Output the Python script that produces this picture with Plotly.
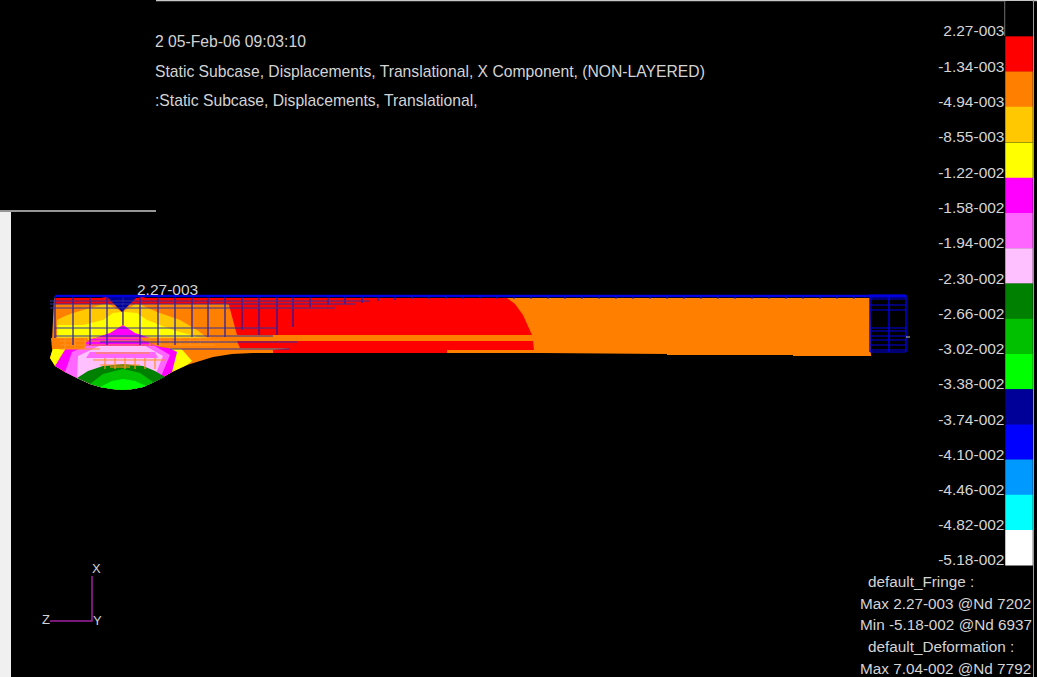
import plotly.graph_objects as go

W, H = 1037, 677
# ---- fringe legend data
fringe_labels = ["2.27-003","-1.34-003","-4.94-003","-8.55-003","-1.22-002","-1.58-002","-1.94-002","-2.30-002",
                 "-2.66-002","-3.02-002","-3.38-002","-3.74-002","-4.10-002","-4.46-002","-4.82-002","-5.18-002"]
fringe_values = [2.27e-3,-1.34e-3,-4.94e-3,-8.55e-3,-1.22e-2,-1.58e-2,-1.94e-2,-2.30e-2,
                 -2.66e-2,-3.02e-2,-3.38e-2,-3.74e-2,-4.10e-2,-4.46e-2,-4.82e-2,-5.18e-2]
fringe_colors = ["#000000","#ff0000","#ff8000","#ffc800","#ffff00","#ff00ff","#ff66ff","#ffc0ff",
                 "#008000","#00c000","#00ff00","#000099","#0000ff","#0099ff","#00ffff","#ffffff"]
stats_lines = ["default_Fringe :","Max 2.27-003 @Nd 7202","Min -5.18-002 @Nd 6937","default_Deformation :","Max 7.04-002 @Nd 7792"]
title_lines = ["2 05-Feb-06 09:03:10",
               "Static Subcase, Displacements, Translational, X Component, (NON-LAYERED)",
               ":Static Subcase, Displacements, Translational,"]

RED, ORG, AMB, YEL, MAG, LMG, PNK, DGR, MGR, BGR, NAV = "#ff0000","#ff8000","#ffc800","#ffff00","#ff00ff","#ff66ff","#ffc0ff","#008000","#00c000","#00ff00","#000099"

# ---- lower edge of the bulge, read left to right
edge_x = [55,65,77,90,100,112,122,133,143,152,160,172,187]
edge_y = [366,372,378,384,387,389,390,389,387,383,379,372,365]

# ---- contour regions of the deformed part, painted back to front (x list, y list, colour)
body_x = [54,870,871,793,793,667,667,540,273,253,232,213] + edge_x[::-1] + [50,53,52,53]
body_y = [298,298,356,356,355,355,354,353,353,353,354,357] + edge_y[::-1] + [358,348,340,320]
left_amber_x = [57,65,73,90,107,122,122,57]
left_amber_y = [320,316,313,308,303,312,340,340]
right_amber_x = [122,137,157,180,197,210,190,122]
right_amber_y = [312,303,312,320,330,340,342,342]
left_yellow_x = [57,83,103,113,122,122,110,57]
left_yellow_y = [325,325,320,313,312,336,338,338]
right_yellow_x = [123,125,137,147,173,197,205,123]
right_yellow_y = [312,312,313,320,330,337,339,339]
centre_magenta_x = [123,110,95,72,175,150,135]
centre_magenta_y = [325,333,338,346,346,338,333]
lower_yellow_x = [53,50] + edge_x + [192,178,120,70]
lower_yellow_y = [348,358] + edge_y + [361,345,342,345]
lower_magenta_x = [66] + edge_x[:-1] + [177,150,95]
lower_magenta_y = [348] + edge_y[:-1] + [352,338,338]
lower_light_x = [72] + edge_x[1:-2] + [170,145,100]
lower_light_y = [352] + edge_y[1:-2] + [355,340,340]
lower_pale_x = [78] + edge_x[2:-3] + [163,142,103]
lower_pale_y = [356] + edge_y[2:-3] + [356,344,344]
stripe_x = [90,155,158,86]
stripe_y = [352,352,358,358]
pale_stripe_x = [86,158,156,88]
pale_stripe_y = [358,358,366,366]
dark_green_x = [77,88,103,123,143,155,165] + edge_x[-3:1:-1]
dark_green_y = [378,371,366,364,366,371,377] + edge_y[-3:1:-1]
mid_green_x = [90,103,123,140,153] + edge_x[-4:2:-1]
mid_green_y = [384,374,369,373,382] + edge_y[-4:2:-1]
bright_green_x = [100,112,123,135,146] + edge_x[-5:3:-1]
bright_green_y = [387,381,379,381,386] + edge_y[-5:3:-1]
left_mess_x = [51,88,84,52]
left_mess_y = [338,338,349,349]
right_mess_x = [138,212,222,175,160]
right_mess_y = [338,338,348,349,347]
red_top_x = [55,230,230,55]
red_top_y = [298,298,304,304]
red_blob_left_x = [95,108,110,102,96]
red_blob_left_y = [300,296,303,304,303]
red_blob_right_x = [135,140,152,150,140]
red_blob_right_y = [303,296,300,304,304]
red_main_x = [227,507,515,523,532,237]
red_main_y = [298,298,304,315,335,335]
red_lower_x = [237,533,534,447,447,273,273,290,240]
red_lower_y = [341,341,350,350,353,353,350,348,348]
orange_band_x = [237,532,533,237]
orange_band_y = [335,335,341,341]
navy_wedge_x = [107,137,122]
navy_wedge_y = [297,297,312]

regions = [
    (body_x, body_y, ORG), (left_amber_x, left_amber_y, AMB), (right_amber_x, right_amber_y, AMB),
    (left_yellow_x, left_yellow_y, YEL), (right_yellow_x, right_yellow_y, YEL),
    (lower_yellow_x, lower_yellow_y, YEL), (lower_magenta_x, lower_magenta_y, MAG), (lower_light_x, lower_light_y, LMG),
    (lower_pale_x, lower_pale_y, PNK), (centre_magenta_x, centre_magenta_y, MAG),
    (stripe_x, stripe_y, LMG), (pale_stripe_x, pale_stripe_y, PNK),
    (dark_green_x, dark_green_y, DGR), (mid_green_x, mid_green_y, MGR), (bright_green_x, bright_green_y, BGR),
    (left_mess_x, left_mess_y, ORG), (right_mess_x, right_mess_y, ORG),
    (red_top_x, red_top_y, RED), (red_blob_left_x, red_blob_left_y, RED), (red_blob_right_x, red_blob_right_y, RED),
    (red_main_x, red_main_y, RED), (red_lower_x, red_lower_y, RED), (orange_band_x, orange_band_y, ORG),
    (navy_wedge_x, navy_wedge_y, NAV),
]

# ---- undeformed mesh (blue)
mesh_v_x = [55,73,90,107,123,140,158,175,192,208,225,242,259,277,293,310,328,345,362,378,395]
mesh_v_top = [296]*21
mesh_v_bot = [338,345,345,345,325,345,345,345,337,337,337,330,335,335,327,307,305,304,303,301,300]
mesh_h_y = [301,304,308,328,336,342,349]
mesh_h_x0 = [50,50,50,55,55,100,170]
mesh_h_x1 = [370,355,335,278,273,297,290]
tick_x = [412,429,446,463,480,497,514,531,548,565,582,599,616,633,650,667,684,701,718,735,752,769,786,803,820,837,854]
tail_v_x = [870,889,906]
tail_h_y = [295,297,299,305,310,328,331,336,340,345,350,352]

# ---- orange contact mesh tangled at the lower edge of the upper block
contact_h_y = [338,341,345,349,353,360,365,367]
contact_h_x0 = [55,60,60,60,95,93,100,110]
contact_h_x1 = [210,220,215,100,150,165,140,130]
contact_v_x = [65,75,85,150,160,170,180,190,200,105,115,125,135,145,155]
contact_v_y0 = [338,338,338,338,338,338,338,338,338,358,358,358,358,358,358]
contact_v_y1 = [349,349,349,346,346,346,346,346,346,369,369,369,369,369,369]

# ---- triad
triad_x = [92,92,50]
triad_y = [576,621,621]

fig = go.Figure()

def poly(x, y, color):
    fig.add_trace(go.Scatter(x=x, y=y, mode="lines", fill="toself", fillcolor=color,
                             line=dict(width=0, color=color), hoverinfo="skip", showlegend=False))

def segs(x0, y0, x1, y1, color, width):
    xs, ys = [], []
    for a, b, c, d in zip(x0, y0, x1, y1):
        xs += [a, c, None]; ys += [b, d, None]
    fig.add_trace(go.Scatter(x=xs, y=ys, mode="lines", line=dict(width=width, color=color),
                             hoverinfo="skip", showlegend=False))

# page frame pieces
poly([0,11,11,0], [212,212,677,677], "#f0f0f0")
segs([0,156], [211,0.5], [156,W], [211,0.5], "#c8c8c8", 1.5)
segs([1033.5], [0], [1033.5], [H], "#9a9a9a", 1)

for x, y, c in regions:
    poly(x, y, c)

segs(contact_h_x0, contact_h_y, contact_h_x1, contact_h_y, "#ff9020", 1.2)
segs(contact_v_x, contact_v_y0, contact_v_x, contact_v_y1, "#ff9020", 1.2)
segs(mesh_v_x, mesh_v_top, mesh_v_x, mesh_v_bot, "#1818b0", 1.2)
segs(mesh_h_x0, mesh_h_y, mesh_h_x1, mesh_h_y, "#3030a0", 1)
segs([55], [296], [905], [296], "#0000e0", 2.4)
segs(tick_x, [296]*len(tick_x), tick_x, [299]*len(tick_x), "#1818b0", 1)
segs(tail_v_x, [295]*3, tail_v_x, [352]*3, "#0000e8", 1.4)
segs([870]*len(tail_h_y), tail_h_y, [906]*len(tail_h_y), tail_h_y, "#0000e8", 1.2)
segs([906], [337], [910], [337], "#c8c8c8", 1)
fig.add_trace(go.Scatter(x=triad_x, y=triad_y, mode="lines", line=dict(width=1.5, color="#a020a0"),
                         hoverinfo="skip", showlegend=False))

# fringe legend: bars on the value axis
k = (fringe_values[0] - fringe_values[-1]) / (len(fringe_values) - 1) / 35.27   # value per pixel
fig.add_trace(go.Bar(x=[1019]*16, y=[35.5*k]*16, base=[v - 5.5*k for v in fringe_values], width=27.5,
                     yaxis="y2", marker=dict(color=fringe_colors, line=dict(width=0)),
                     hoverinfo="skip", showlegend=False))
segs([1005,1005], [1.5,1.5], [1032.5,1005], [1.5,36], "#b0b0b0", 1)

TXT = "#d4d4d4"
FONT = "Liberation Sans"
ann = []
def text(x, y, s, size, color=TXT):
    ann.append(dict(x=x, y=y, text=s, xref="x", yref="y", xanchor="left", yanchor="middle", showarrow=False,
                    font=dict(family=FONT, size=size, color=color)))

for s, y in zip(title_lines, [41, 71, 100]):
    text(153, y, s, 15.7)
for s, x, y in zip(stats_lines, [866,858,858,866,858], [581,603,624,646,668]):
    text(x, y, s, 15.3)
text(135, 289, "2.27-003", 15.5)
text(90, 568, "X", 13); text(91, 620, "Y", 13); text(40, 619, "Z", 13)

fig.update_layout(
    width=W, height=H, margin=dict(l=0, r=0, t=0, b=0), autosize=False,
    paper_bgcolor="#000000", plot_bgcolor="#000000", showlegend=False, annotations=ann, barmode="overlay",
    xaxis=dict(range=[0, W], visible=False, fixedrange=True, domain=[0, 1]),
    yaxis=dict(range=[H, 0], visible=False, fixedrange=True, domain=[0, 1]),
    yaxis2=dict(overlaying="y", anchor="free", position=1004.5/W, side="left",
                range=[fringe_values[-1] - 117*k, fringe_values[0] + 31*k],
                tickmode="array", tickvals=fringe_values, ticktext=fringe_labels,
                tickfont=dict(family=FONT, size=15.5, color=TXT),
                showgrid=False, zeroline=False, showline=False, ticks="", fixedrange=True),
)
fig.write_html("out.html", config=dict(displayModeBar=False),
               post_script="document.body.style.margin='0';document.body.style.background='#000';")
